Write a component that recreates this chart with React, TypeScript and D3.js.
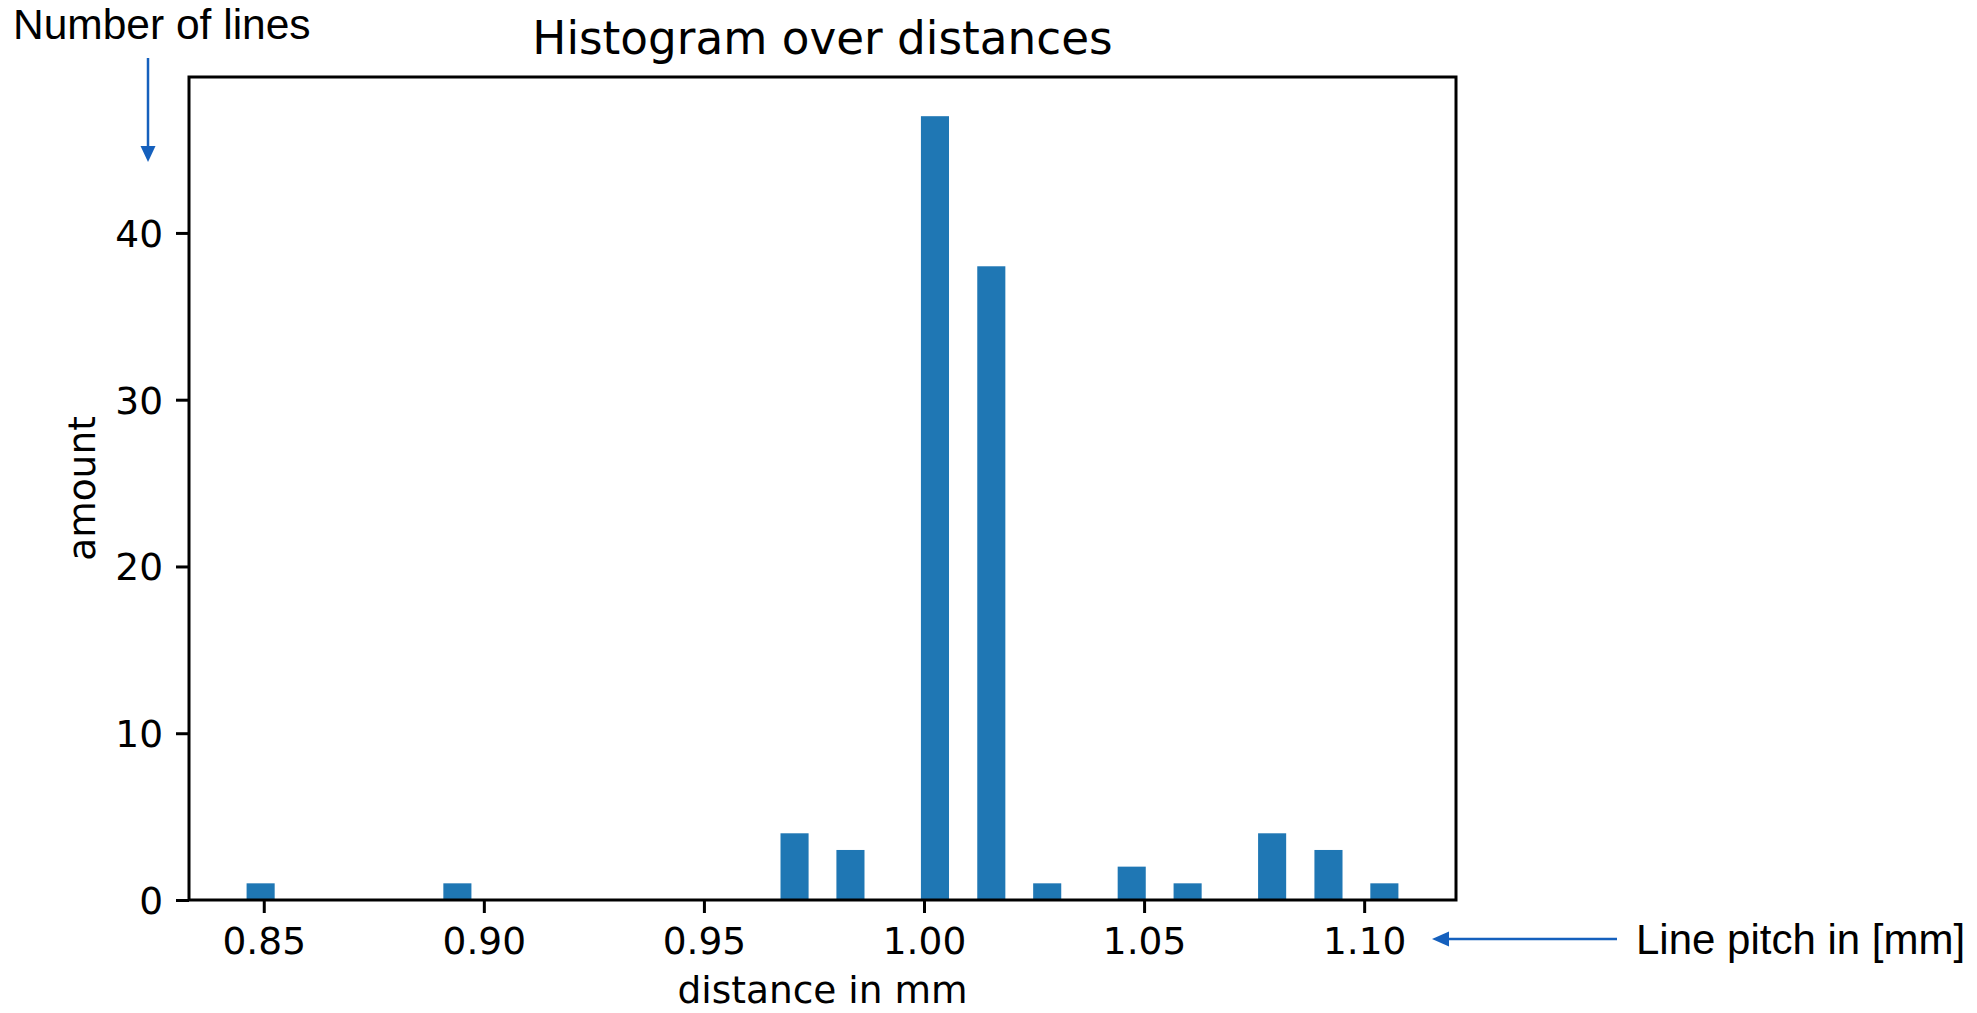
import React, { useEffect, useRef } from 'react';
import * as d3 from 'd3';

// histogram bins (left edge in mm) and number of lines in each
const binLeft = [0.8461, 0.8908, 0.9674, 0.9801, 0.9993, 1.0121, 1.0248, 1.044, 1.0567, 1.0759, 1.0887, 1.1014];
const counts = [1, 1, 4, 3, 47, 38, 1, 2, 1, 4, 3, 1];
const binWidth = 0.00638;

const xTicks = [0.85, 0.9, 0.95, 1.0, 1.05, 1.1];
const yTicks = [0, 10, 20, 30, 40];

const W = 1977;
const H = 1013;

const App = () => {
  const svgRef = useRef<SVGSVGElement | null>(null);

  useEffect(() => {
    const margin = { top: 77, right: 521, bottom: 113, left: 189 };
    const innerW = W - margin.left - margin.right;
    const innerH = H - margin.top - margin.bottom;

    const svg = d3.select(svgRef.current);
    svg.selectAll('*').remove();

    const font = '"DejaVu Sans", sans-serif';
    const annFont = '"Liberation Sans", Arial, sans-serif';
    const blue = '#1f77b4';
    const arrowBlue = '#1560bd';

    // x limits with matplotlib-like 5% padding around the bars
    const lo = d3.min(binLeft) as number;
    const hi = (d3.max(binLeft) as number) + binWidth;
    const pad = (hi - lo) * 0.05;

    const x = d3.scaleLinear().domain([lo - pad, hi + pad]).range([0, innerW]);
    const y = d3.scaleLinear().domain([0, (d3.max(counts) as number) * 1.05]).range([innerH, 0]);

    const chart = svg.append('g').attr('transform', `translate(${margin.left},${margin.top})`);

    // bars
    chart.selectAll('rect.bar')
      .data(binLeft)
      .enter()
      .append('rect')
      .attr('class', 'bar')
      .attr('x', d => x(d))
      .attr('width', d => x(d + binWidth) - x(d))
      .attr('y', (d, i) => y(counts[i]))
      .attr('height', (d, i) => innerH - y(counts[i]))
      .attr('fill', blue);

    // spines
    chart.append('rect')
      .attr('width', innerW)
      .attr('height', innerH)
      .attr('fill', 'none')
      .attr('stroke', 'black')
      .attr('stroke-width', 3);

    // x axis
    const xAxis = chart.append('g')
      .attr('transform', `translate(0,${innerH})`)
      .call(d3.axisBottom(x).tickValues(xTicks).tickFormat(d3.format('.2f')).tickSize(13).tickPadding(14));
    xAxis.select('.domain').remove();
    xAxis.selectAll('line').attr('stroke-width', 3);
    xAxis.selectAll('text').attr('font-size', 37.5).attr('font-family', font).attr('fill', 'black').attr('dy', '0.71em');

    // y axis
    const yAxis = chart.append('g')
      .call(d3.axisLeft(y).tickValues(yTicks).tickFormat(d3.format('d')).tickSize(13).tickPadding(13));
    yAxis.select('.domain').remove();
    yAxis.selectAll('line').attr('stroke-width', 3);
    yAxis.selectAll('text').attr('font-size', 37.5).attr('font-family', font).attr('fill', 'black').attr('dy', '0.36em');

    // title
    chart.append('text')
      .attr('x', innerW / 2)
      .attr('y', -23)
      .attr('text-anchor', 'middle')
      .attr('font-family', font)
      .attr('font-size', 45.3)
      .text('Histogram over distances');

    // x label
    chart.append('text')
      .attr('x', innerW / 2)
      .attr('y', innerH + 103)
      .attr('text-anchor', 'middle')
      .attr('font-family', font)
      .attr('font-size', 37.5)
      .text('distance in mm');

    // y label
    chart.append('text')
      .attr('transform', 'rotate(-90)')
      .attr('x', -innerH / 2)
      .attr('y', -94)
      .attr('text-anchor', 'middle')
      .attr('font-family', font)
      .attr('font-size', 37.5)
      .text('amount');

    // annotations added on top of the plot
    svg.append('text')
      .attr('x', 13)
      .attr('y', 39)
      .attr('font-family', annFont)
      .attr('font-size', 42.5)
      .text('Number of lines');

    svg.append('line')
      .attr('x1', 148).attr('x2', 148)
      .attr('y1', 58).attr('y2', 150)
      .attr('stroke', arrowBlue)
      .attr('stroke-width', 2.5);
    svg.append('path')
      .attr('d', 'M140.5,146L155.5,146L148,162Z')
      .attr('fill', arrowBlue);

    svg.append('line')
      .attr('x1', 1617).attr('x2', 1444)
      .attr('y1', 939).attr('y2', 939)
      .attr('stroke', arrowBlue)
      .attr('stroke-width', 2.5);
    svg.append('path')
      .attr('d', 'M1432,939L1449,931.5L1449,946.5Z')
      .attr('fill', arrowBlue);

    svg.append('text')
      .attr('x', 1636)
      .attr('y', 954)
      .attr('font-family', annFont)
      .attr('font-size', 42)
      .text('Line pitch in [mm]');
  }, []);

  return (
    <svg
      ref={svgRef}
      width={W}
      height={H}
      style={{ position: 'absolute', left: 0, top: 0, background: 'white' }}
    ></svg>
  );
};

export default App;
